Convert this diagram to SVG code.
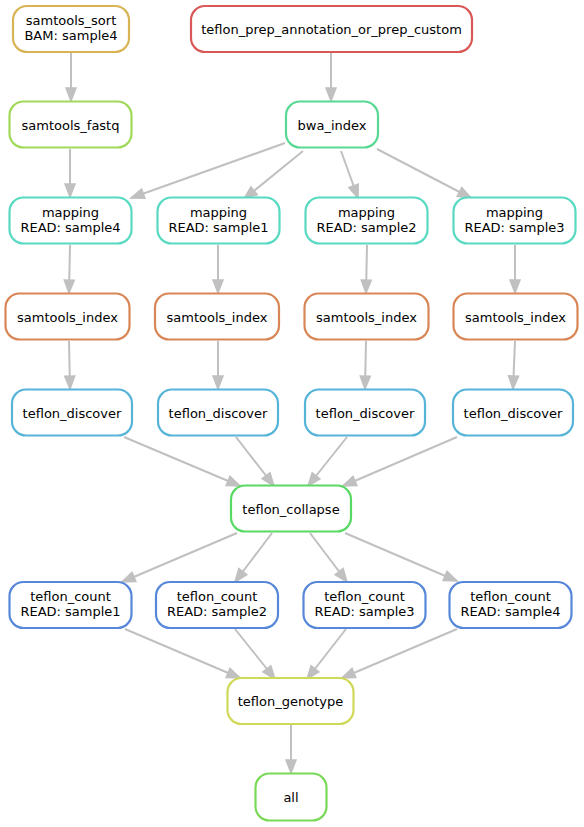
<svg xmlns="http://www.w3.org/2000/svg" width="584" height="827" viewBox="0 0 584 827">
  <defs>
    <marker id="arrow" markerUnits="userSpaceOnUse" markerWidth="16" markerHeight="14" refX="13" refY="5" orient="auto" overflow="visible">
      <path d="M0,0 L13,5 L0,10 z" fill="#c0c0c0" stroke="#c0c0c0" stroke-width="1.5"/>
    </marker>
  </defs>
  <style>
    .node rect { fill: #ffffff; stroke-width: 2.2; }
    .node text { font-family: "DejaVu Sans", "Liberation Sans", sans-serif; font-size: 13px; fill: #000000; text-anchor: middle; }
    .edges line { stroke: #c0c0c0; stroke-width: 2; marker-end: url(#arrow); }
    .sort rect { stroke: #d9b457; }
    .prep rect { stroke: #d95757; }
    .fastq rect { stroke: #a0d957; }
    .bwa rect { stroke: #57d993; }
    .mapping rect { stroke: #57d9c2; }
    .index rect { stroke: #d98657; }
    .discover rect { stroke: #57b4d9; }
    .collapse rect { stroke: #57d964; }
    .count rect { stroke: #5787d9; }
    .genotype rect { stroke: #cfd957; }
    .all rect { stroke: #79d957; }
  </style>

  <!-- connectors -->
  <g id="edges" class="edges">
    <line x1="71" y1="53" x2="71" y2="101"/>
    <line x1="331" y1="53" x2="331" y2="101"/>
    <line x1="70" y1="149" x2="70" y2="197"/>
    <line x1="285" y1="143" x2="131" y2="198"/>
    <line x1="303" y1="151" x2="244" y2="199"/>
    <line x1="341" y1="151" x2="358" y2="198"/>
    <line x1="377" y1="149" x2="471" y2="198"/>
    <line x1="70" y1="245" x2="69" y2="293"/>
    <line x1="218" y1="245" x2="218" y2="293"/>
    <line x1="367" y1="245" x2="366" y2="293"/>
    <line x1="515" y1="245" x2="515" y2="293"/>
    <line x1="69" y1="341" x2="70" y2="389"/>
    <line x1="218" y1="341" x2="218" y2="389"/>
    <line x1="366" y1="341" x2="365" y2="389"/>
    <line x1="515" y1="341" x2="513" y2="389"/>
    <line x1="124" y1="437" x2="240" y2="486"/>
    <line x1="236" y1="437" x2="274" y2="486"/>
    <line x1="347" y1="437" x2="308" y2="486"/>
    <line x1="457" y1="437" x2="343" y2="486"/>
    <line x1="237" y1="533" x2="122" y2="582"/>
    <line x1="272" y1="533" x2="235" y2="582"/>
    <line x1="310" y1="533" x2="347" y2="582"/>
    <line x1="345" y1="533" x2="457" y2="581"/>
    <line x1="125" y1="629" x2="240" y2="678"/>
    <line x1="235" y1="629" x2="275" y2="679"/>
    <line x1="346" y1="629" x2="307" y2="679"/>
    <line x1="457" y1="629" x2="342" y2="678"/>
    <line x1="291" y1="725" x2="291" y2="773"/>
  </g>

  <!-- nodes -->
  <g id="samtools_sort" class="node sort">
    <rect x="13" y="6" width="116" height="46" rx="14"/>
    <text x="71" y="25">samtools_sort</text>
    <text x="71" y="40">BAM: sample4</text>
  </g>
  <g id="teflon_prep" class="node prep">
    <rect x="191" y="6" width="281" height="46" rx="14"/>
    <text x="331.5" y="34">teflon_prep_annotation_or_prep_custom</text>
  </g>
  <g id="samtools_fastq" class="node fastq">
    <rect x="9.5" y="101.5" width="122" height="46" rx="14"/>
    <text x="70.5" y="130">samtools_fastq</text>
  </g>
  <g id="bwa_index" class="node bwa">
    <rect x="286" y="101.5" width="92" height="46" rx="14"/>
    <text x="332" y="130">bwa_index</text>
  </g>

  <g id="mapping_sample4" class="node mapping">
    <rect x="9.5" y="197.5" width="122" height="46" rx="14"/>
    <text x="70.5" y="217">mapping</text>
    <text x="70.5" y="232">READ: sample4</text>
  </g>
  <g id="mapping_sample1" class="node mapping">
    <rect x="157.5" y="197.5" width="122" height="46" rx="14"/>
    <text x="218.5" y="217">mapping</text>
    <text x="218.5" y="232">READ: sample1</text>
  </g>
  <g id="mapping_sample2" class="node mapping">
    <rect x="305.5" y="197.5" width="122" height="46" rx="14"/>
    <text x="366.5" y="217">mapping</text>
    <text x="366.5" y="232">READ: sample2</text>
  </g>
  <g id="mapping_sample3" class="node mapping">
    <rect x="453.5" y="197.5" width="122" height="46" rx="14"/>
    <text x="514.5" y="217">mapping</text>
    <text x="514.5" y="232">READ: sample3</text>
  </g>

  <g id="samtools_index_sample4" class="node index">
    <rect x="5.5" y="293.5" width="124" height="46" rx="14"/>
    <text x="67.5" y="322">samtools_index</text>
  </g>
  <g id="samtools_index_sample1" class="node index">
    <rect x="155" y="293.5" width="124" height="46" rx="14"/>
    <text x="217" y="322">samtools_index</text>
  </g>
  <g id="samtools_index_sample2" class="node index">
    <rect x="304.5" y="293.5" width="124" height="46" rx="14"/>
    <text x="366.5" y="322">samtools_index</text>
  </g>
  <g id="samtools_index_sample3" class="node index">
    <rect x="453.5" y="293.5" width="124" height="46" rx="14"/>
    <text x="515.5" y="322">samtools_index</text>
  </g>

  <g id="teflon_discover_sample4" class="node discover">
    <rect x="12" y="389.5" width="120" height="46" rx="14"/>
    <text x="72" y="418">teflon_discover</text>
  </g>
  <g id="teflon_discover_sample1" class="node discover">
    <rect x="158" y="389.5" width="120" height="46" rx="14"/>
    <text x="218" y="418">teflon_discover</text>
  </g>
  <g id="teflon_discover_sample2" class="node discover">
    <rect x="305" y="389.5" width="120" height="46" rx="14"/>
    <text x="365" y="418">teflon_discover</text>
  </g>
  <g id="teflon_discover_sample3" class="node discover">
    <rect x="453" y="389.5" width="120" height="46" rx="14"/>
    <text x="513" y="418">teflon_discover</text>
  </g>

  <g id="teflon_collapse" class="node collapse">
    <rect x="231" y="485.5" width="120" height="46" rx="14"/>
    <text x="291" y="514">teflon_collapse</text>
  </g>

  <g id="teflon_count_sample1" class="node count">
    <rect x="9.5" y="582" width="122" height="46" rx="14"/>
    <text x="70.5" y="601">teflon_count</text>
    <text x="70.5" y="616">READ: sample1</text>
  </g>
  <g id="teflon_count_sample2" class="node count">
    <rect x="156" y="582" width="122" height="46" rx="14"/>
    <text x="217" y="601">teflon_count</text>
    <text x="217" y="616">READ: sample2</text>
  </g>
  <g id="teflon_count_sample3" class="node count">
    <rect x="303.5" y="582" width="122" height="46" rx="14"/>
    <text x="364.5" y="601">teflon_count</text>
    <text x="364.5" y="616">READ: sample3</text>
  </g>
  <g id="teflon_count_sample4" class="node count">
    <rect x="449.5" y="582" width="122" height="46" rx="14"/>
    <text x="510.5" y="601">teflon_count</text>
    <text x="510.5" y="616">READ: sample4</text>
  </g>

  <g id="teflon_genotype" class="node genotype">
    <rect x="227.5" y="678" width="126" height="46" rx="14"/>
    <text x="290.5" y="706">teflon_genotype</text>
  </g>
  <g id="all" class="node all">
    <rect x="255.5" y="773.5" width="71" height="47" rx="14"/>
    <text x="291" y="802">all</text>
  </g>
</svg>
